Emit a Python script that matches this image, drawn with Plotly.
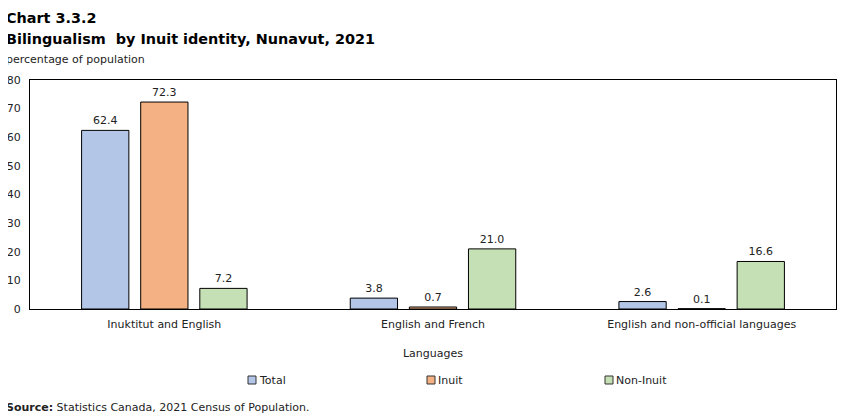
import plotly.graph_objects as go

categories = ["Inuktitut and English", "English and French", "English and non-official languages"]
total = [62.4, 3.8, 2.6]
inuit = [72.3, 0.7, 0.1]
non_inuit = [7.2, 21.0, 16.6]
series_names = ["Total", "Inuit", "Non-Inuit"]
colors = ["#b3c6e7", "#f4b183", "#c5e0b4"]

FONT = "Verdana, DejaVu Sans, sans-serif"
OFF = 8  # default page body margin
W, H = 851 - OFF, 417 - OFF
ML, MR, MT, MB = 30 - OFF, 15, 80 - OFF, 108

fig = go.Figure()
for name, vals, col in zip(series_names, [total, inuit, non_inuit], colors):
    fig.add_trace(go.Bar(
        x=categories, y=vals, name=name,
        marker=dict(color=col, line=dict(color="#000000", width=1)),
        text=[f"{v:.1f}" for v in vals], textposition="outside",
        textfont=dict(size=11, color="#222222", family=FONT),
        cliponaxis=False, showlegend=False,
    ))

fig.update_layout(
    width=W, height=H,
    margin=dict(l=ML, r=MR, t=MT, b=MB, autoexpand=False),
    plot_bgcolor="white", paper_bgcolor="white",
    font=dict(family=FONT, size=11, color="#222222"),
    barmode="group", bargap=0.34, bargroupgap=0.2,
    showlegend=False,
    xaxis=dict(showline=True, linecolor="black", linewidth=1, mirror=True,
               ticks="", showgrid=False, automargin=False, ticklabelstandoff=5,
               title=dict(text="Languages", font=dict(size=11), standoff=19)),
    yaxis=dict(range=[0, 80], dtick=10, showline=True, linecolor="black", linewidth=1,
               mirror=True, ticks="", showgrid=False, zeroline=False, automargin=False,
               ticklabelstandoff=6, tickfont=dict(size=11)),
)

# Titles
fig.add_annotation(text="<b>Chart 3.3.2</b>", xref="paper", yref="paper", x=0, xanchor="left",
                   y=1, yshift=MT, yanchor="top", showarrow=False,
                   font=dict(size=14.4, family=FONT, color="#000000"), xshift=-26)
fig.add_annotation(text="<b>Bilingualism  by Inuit identity, Nunavut, 2021</b>", xref="paper", yref="paper",
                   x=0, xanchor="left", y=1, yshift=MT - 21, yanchor="top", showarrow=False,
                   font=dict(size=14.4, family=FONT, color="#000000"), xshift=-26)
fig.add_annotation(text="percentage of population", xref="paper", yref="paper",
                   x=0, xanchor="left", y=1, yshift=MT - 43, yanchor="top", showarrow=False,
                   font=dict(size=11, family=FONT, color="#222222"), xshift=-26)
fig.add_annotation(text="<b>Source:</b> Statistics Canada, 2021 Census of Population.", xref="paper", yref="paper",
                   x=0, xanchor="left", y=0, yshift=-98, yanchor="middle", showarrow=False,
                   font=dict(size=11, family=FONT, color="#222222"), xshift=-26)

# Custom legend (small squares + labels), positions in page pixels
pw = W - ML - MR
ph = H - MT - MB
leg_px = [248, 427, 605]
leg_py = 380
for name, col, px in zip(series_names, colors, leg_px):
    fx = px - OFF
    fy = leg_py - OFF
    x0 = (fx - ML) / pw
    x1 = (fx + 8 - ML) / pw
    y0 = (H - MB - (fy + 4)) / ph
    y1 = (H - MB - (fy - 4)) / ph
    fig.add_shape(type="rect", xref="paper", yref="paper", x0=x0, x1=x1, y0=y0, y1=y1,
                  fillcolor=col, line=dict(color="#333333", width=1))
    fig.add_annotation(text=name, xref="paper", yref="paper", x=(fx + 9 - ML) / pw, xanchor="left",
                       y=(H - MB - fy) / ph, yanchor="middle", showarrow=False,
                       font=dict(size=11, family=FONT, color="#222222"))

fig.write_html("out.html")
